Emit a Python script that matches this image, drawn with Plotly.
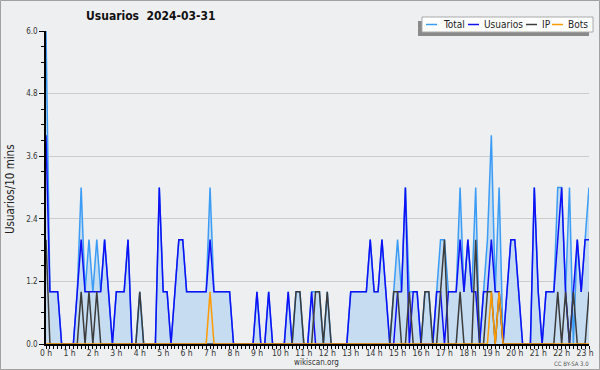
import plotly.graph_objects as go

# 10-minute buckets, 2024-03-31
total = [6,1,1,1,0,0,0,0,1,3,1,2,1,2,1,2,1,0,1,1,1,2,0,0,1,0,0,0,0,3,
         1,1,0,1,2,2,1,1,1,1,1,1,3,1,1,1,1,1,0,0,0,0,0,0,1,0,0,1,0,0,
         0,0,1,0,1,1,0,0,1,1,1,0,1,0,0,0,0,0,1,1,1,1,1,2,1,1,2,1,0,1,
         2,1,3,1,1,1,0,1,1,0,1,2,2,1,1,1,3,1,2,1,3,0,1,2,4,1,3,0,1,2,
         2,1,0,0,0,3,1,0,1,1,1,3,3,1,3,0,2,1,2,3]
usuarios = [4,1,1,1,0,0,0,0,1,2,1,1,1,1,1,2,1,0,1,1,1,2,0,0,0,0,0,0,0,3,
            1,1,0,1,2,2,1,1,1,1,1,1,2,1,1,1,1,1,0,0,0,0,0,0,1,0,0,1,0,0,
            0,0,1,0,0,0,0,0,1,0,0,0,0,0,0,0,0,0,1,1,1,1,1,2,1,1,2,1,0,0,
            1,1,3,0,1,1,0,0,0,0,1,1,0,1,1,1,2,1,2,1,1,0,1,1,2,1,1,0,1,2,
            2,1,0,0,0,3,1,0,1,1,1,2,3,1,0,1,2,1,2,2]
ip = [2,0,0,0,0,0,0,0,0,1,0,1,0,1,0,0,0,0,0,0,0,0,0,0,1,0,0,0,0,0,
      0,0,0,0,0,0,0,0,0,0,0,0,0,0,0,0,0,0,0,0,0,0,0,0,0,0,0,0,0,0,
      0,0,0,0,1,1,0,0,0,1,1,0,1,0,0,0,0,0,0,0,0,0,0,0,0,0,0,0,0,1,
      1,0,0,1,0,0,0,1,1,0,0,1,2,0,0,0,1,0,0,0,2,0,0,1,1,0,1,0,0,0,
      0,0,0,0,0,0,0,0,0,0,0,1,0,1,0,1,0,0,0,1]
bots = [0]*140
for k in (42, 114, 116):
    bots[k] = 1

hours = list(range(24))
hour_labels = [f"{h} h" for h in hours]
y_ticks = [0, 1.2, 2.4, 3.6, 4.8, 6.0]
y_labels = ["0.0", "1.2", "2.4", "3.6", "4.8", "6.0"]

x = list(range(len(total)))
FONT = "DejaVu Sans Condensed, DejaVu Sans"
C_TOTAL = "#3b9cf5"
C_USU = "#1010f5"
C_IP = "#3c3c3c"
C_BOTS = "#ff9a00"

fig = go.Figure()
fig.add_trace(go.Scatter(x=x, y=total, mode="lines", fill="tozeroy",
                         fillcolor="rgb(198,221,241)",
                         line=dict(color=C_TOTAL, width=1.5), name="Total"))
fig.add_trace(go.Scatter(x=x, y=usuarios, mode="lines",
                         line=dict(color=C_USU, width=1.5), name="Usuarios"))
fig.add_trace(go.Scatter(x=x, y=ip, mode="lines",
                         line=dict(color=C_IP, width=1.5), name="IP"))
fig.add_trace(go.Scatter(x=x, y=bots, mode="lines",
                         line=dict(color=C_BOTS, width=1.5), name="Bots"))

L, R, T, B = 46, 589, 31, 344
def px(v):
    return (v - L) / (R - L)
def py(v):
    return (B - v) / (B - T)

shapes = [
    dict(type="rect", xref="paper", yref="paper", x0=px(418), x1=px(589),
         y0=py(21), y1=py(36), fillcolor="#8a8a8a", line=dict(width=0)),
    dict(type="rect", xref="paper", yref="paper", x0=px(422), x1=px(593),
         y0=py(17), y1=py(32), fillcolor="white",
         line=dict(color="#a8a8a8", width=1)),
    dict(type="rect", xref="paper", yref="paper", x0=px(0.5), x1=px(599.5),
         y0=py(0.5), y1=py(369.5), line=dict(color="#a0a0a0", width=1)),
]
legend_items = [("Total", C_TOTAL, 426, 442), ("Usuarios", C_USU, 468, 483),
                ("IP", C_IP, 526, 541), ("Bots", C_BOTS, 552, 567)]
annotations = []
for name, col, lx, tx in legend_items:
    shapes.append(dict(type="line", xref="paper", yref="paper", x0=px(lx),
                       x1=px(lx + 11), y0=py(24.5), y1=py(24.5),
                       line=dict(color=col, width=1.5)))
    annotations.append(dict(text=name, xref="paper", yref="paper", x=px(tx),
                            y=py(24.5), xanchor="left", yanchor="middle",
                            showarrow=False, borderpad=0,
                            font=dict(family=FONT, size=10, color="#222")))

annotations += [
    dict(text="<b>Usuarios\u00a0\u00a02024-03-31</b>", xref="paper", yref="paper",
         x=px(150.5), y=py(16.5), xanchor="center", yanchor="middle",
         showarrow=False, font=dict(family=FONT, size=12, color="#111")),
    dict(text="Usuarios/10 mins", xref="paper", yref="paper", x=px(10),
         y=py(189), textangle=-90, xanchor="center", yanchor="middle",
         showarrow=False, font=dict(family=FONT, size=11.5, color="#222")),
    dict(text="wikiscan.org", xref="paper", yref="paper", x=px(316),
         y=py(362.5), xanchor="center", yanchor="middle", showarrow=False,
         font=dict(family=FONT, size=8, color="#333")),
    dict(text="CC BY-SA 3.0", xref="paper", yref="paper", x=px(571),
         y=py(363.5), xanchor="center", yanchor="middle", showarrow=False,
         font=dict(family=FONT, size=6, color="#555")),
]

fig.update_layout(
    width=600, height=370, autosize=False,
    margin=dict(l=L, r=600 - R, t=T, b=370 - B, autoexpand=False),
    paper_bgcolor="#eeeff1", plot_bgcolor="#eeeff1",
    showlegend=False, shapes=shapes, annotations=annotations,
    xaxis=dict(range=[0, len(total) - 1], tickmode="array", automargin=False,
               tickvals=[6 * h for h in hours], ticktext=hour_labels,
               ticks="", showline=True, linecolor="black", linewidth=1.5,
               showgrid=False, zeroline=False,
               tickfont=dict(family=FONT, size=8.5, color="#333"),
               minor=dict(tickmode="linear", tick0=0, dtick=1, ticks="outside",
                          ticklen=3, tickcolor="black", showgrid=False)),
    yaxis=dict(range=[0, 6], tickmode="array", tickvals=y_ticks, automargin=False,
               ticktext=y_labels, ticks="outside", ticklen=5,
               tickcolor="black", showline=True, linecolor="black",
               linewidth=1.5, showgrid=True, gridcolor="#cccccc",
               gridwidth=1, zeroline=False,
               tickfont=dict(family=FONT, size=8, color="#333"),
               minor=dict(tickmode="linear", tick0=0, dtick=0.3,
                          ticks="outside", ticklen=3, tickcolor="black",
                          showgrid=False)),
)

fig.write_html("out.html")
